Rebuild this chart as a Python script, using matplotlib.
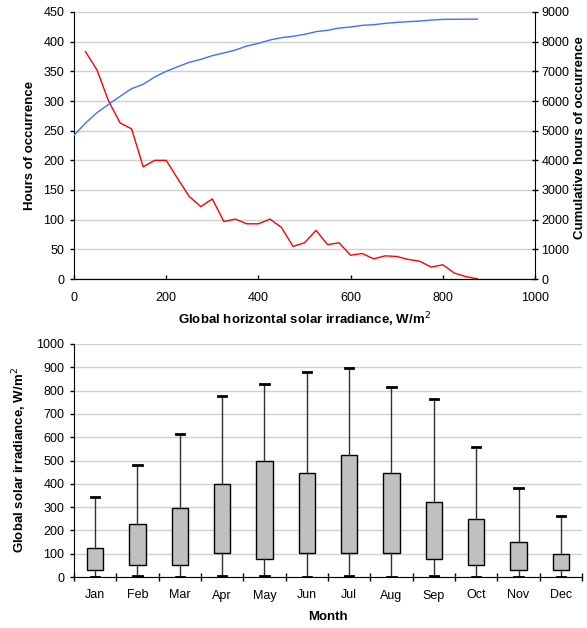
import numpy as np
import matplotlib
matplotlib.use("Agg")
import matplotlib.pyplot as plt

plt.rcParams['font.family'] = ['Liberation Sans', 'DejaVu Sans']
plt.rcParams['font.size'] = 9

# irradiance bins, W/m2
irr_bins = [25, 50, 75, 100, 125, 150, 175, 200, 225, 250, 275, 300, 325, 350,
            375, 400, 425, 450, 475, 500, 525, 550, 575, 600, 625, 650, 675,
            700, 725, 750, 775, 800, 825, 850, 875]
hours = [383, 352, 300, 263, 253, 189, 200, 200, 169, 139, 122, 135, 97, 101,
         93, 93, 101, 87, 55, 61, 82, 58, 61, 40, 43, 34, 39,
         38, 33, 30, 20, 24, 10, 4, 0.5]

cum_irr = [0] + irr_bins
cum_hours = [4843, 5258, 5607, 5888, 6157, 6416, 6562, 6809, 7000, 7157, 7303,
             7404, 7528, 7618, 7719, 7854, 7944, 8056, 8135, 8180, 8247, 8337,
             8382, 8459, 8493, 8549, 8571, 8616, 8650, 8673, 8695, 8729, 8751,
             8755, 8758, 8760]

months = ['Jan', 'Feb', 'Mar', 'Apr', 'May', 'Jun',
          'Jul', 'Aug', 'Sep', 'Oct', 'Nov', 'Dec']
m_min = [0, 4, 0, 4, 4, 0, 4, 0, 4, 0, 0, 0]
m_q1 = [29, 53, 53, 103, 77, 103, 103, 103, 77, 53, 29, 29]
m_q3 = [126, 228, 298, 397, 499, 448, 524, 448, 323, 247, 151, 100]
m_max = [344, 479, 615, 776, 828, 878, 895, 816, 765, 558, 383, 261]

fig = plt.figure(figsize=(5.87, 6.28), dpi=100)
W, H = 587.0, 628.0
grid_col = '#d0d0d0'
lab = dict(fontweight='bold', fontsize=9.5)

# top: distribution of hours by irradiance
ax1 = fig.add_axes([74 / W, 1 - 279 / H, (535 - 74) / W, (279 - 12) / H])
ax1.plot(irr_bins, hours, color='#ff0000', lw=1)
ax1.set_xlim(0, 1000)
ax1.set_ylim(0, 450)
ax1.set_xticks(np.arange(0, 1001, 200))
ax1.set_yticks(np.arange(0, 451, 50))
ax1.yaxis.grid(True, color=grid_col, lw=1)
ax1.set_axisbelow(True)
ax1.spines['top'].set_visible(False)
ax1.spines['right'].set_visible(False)
ax1.set_xlabel('Global horizontal solar irradiance, W/m$^2$', labelpad=5, **lab)
ax1.set_ylabel('Hours of occurrence', labelpad=5, **lab)
ax1.tick_params(axis='y', length=3, width=1, pad=4)
ax1.tick_params(axis='x', direction='in', length=3, width=1, pad=9)

ax2 = ax1.twinx()
ax2.plot(cum_irr, cum_hours, color='#3f6fff', lw=1)
ax2.set_ylim(0, 9000)
ax2.set_yticks(np.arange(0, 9001, 1000))
ax2.spines['top'].set_visible(False)
ax2.spines['left'].set_visible(False)
ax2.tick_params(direction='inout', length=5, width=1, pad=2)
ax2.set_ylabel('Cumulative hours of occurrence', **lab)
ax2.yaxis.set_label_coords((574 - 74) / 461, 0.53)

# bottom: monthly irradiance spread
ax3 = fig.add_axes([74 / W, 1 - 577 / H, (582 - 74) / W, (577 - 344) / H])
stats = []
for i in range(12):
    stats.append(dict(whislo=m_min[i], q1=m_q1[i], med=m_q1[i],
                      q3=m_q3[i], whishi=m_max[i]))
pos = np.arange(1, 13)
ax3.bxp(stats, positions=pos, widths=0.38, showfliers=False, patch_artist=True,
        boxprops=dict(facecolor='#c0c0c0', edgecolor='black', lw=1),
        whiskerprops=dict(color='#303030', lw=1),
        capprops=dict(color='black', lw=2),
        medianprops=dict(lw=0),
        capwidths=0.2)
ax3.set_xlim(0.5, 12.5)
ax3.set_ylim(0, 1000)
ax3.set_yticks(np.arange(0, 1001, 100))
ax3.set_xticks(np.arange(0.5, 12.6, 1))
ax3.set_xticklabels([])
ax3.set_xticks(pos, minor=True)
ax3.set_xticklabels(months, minor=True)
ax3.tick_params(axis='x', which='major', direction='inout', length=6, width=1)
ax3.tick_params(axis='x', which='minor', length=0, pad=9)
ax3.tick_params(axis='y', length=3, width=1, pad=4)
ax3.yaxis.grid(True, color=grid_col, lw=1)
ax3.set_axisbelow(True)
ax3.spines['top'].set_visible(False)
ax3.spines['right'].set_visible(False)
ax3.set_xlabel('Month', labelpad=7, **lab)
ax3.set_ylabel('Global solar irradiance, W/m$^2$', labelpad=5, **lab)

fig.savefig('out.png', dpi=100)
